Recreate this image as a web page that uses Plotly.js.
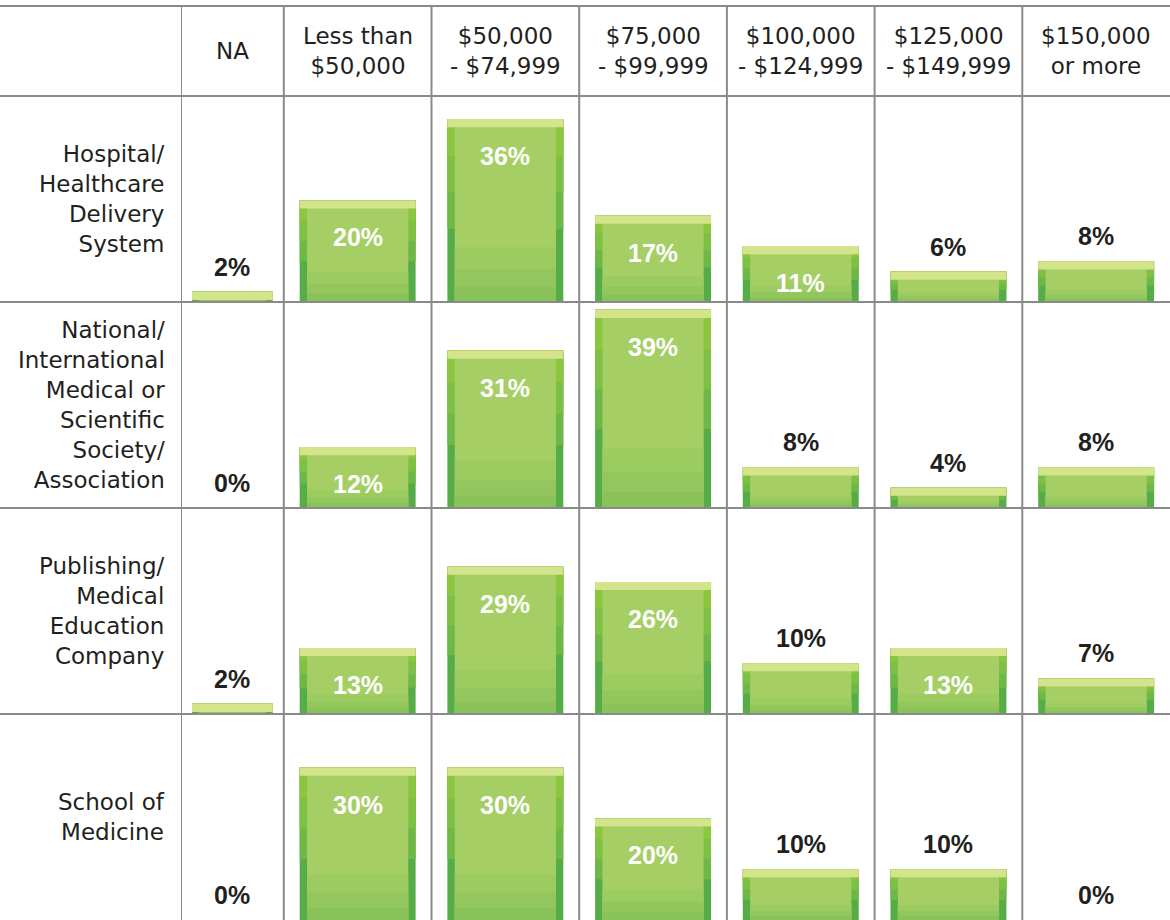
<!DOCTYPE html>
<html>
<head>
<meta charset="utf-8">
<script src="https://cdn.plot.ly/plotly-3.0.1.min.js"></script>
<style>
  html, body { margin: 0; padding: 0; background: #ffffff; }
  #chart { width: 1170px; height: 920px; }
</style>
</head>
<body>
<div id="chart"></div>
<script>
// ---- Data ----
const categories = ["NA", "Less than<br>$50,000", "$50,000<br>- $74,999", "$75,000<br>- $99,999",
                    "$100,000<br>- $124,999", "$125,000<br>- $149,999", "$150,000<br>or more"];
const rowLabels = ["Hospital/<br>Healthcare<br>Delivery<br>System",
                   "National/<br>International<br>Medical or<br>Scientific<br>Society/<br>Association",
                   "Publishing/<br>Medical<br>Education<br>Company",
                   "School of<br>Medicine"];
const hospital   = [2, 20, 36, 17, 11, 6, 8];
const national   = [0, 12, 31, 39, 8, 4, 8];
const publishing = [2, 13, 29, 26, 10, 13, 7];
const school     = [0, 30, 30, 20, 10, 10, 0];
const series = [hospital, national, publishing, school];

// ---- Layout constants ----
const colW = [0.696, 1, 1, 1, 1, 1, 1];
const centers = []; const bounds = []; let acc = 0;
colW.forEach(w => { bounds.push(acc); centers.push(acc + w / 2); acc += w; });
const xMax = acc;
const barFrac = 0.785;
const sideW = 0.05;
const yMax = 40.55;
const band = 1.6;
const W = 1170, H = 920, ML = 181, MT = 96;
const plotW = W - ML, plotH = H - MT;

const traces = [];
const annotations = [];
const yref = r => (r === 0 ? 'y' : 'y' + (r + 1));

function layer(r, vals, widthFn, baseFn, hFn, color) {
  traces.push({
    type: 'bar',
    x: centers,
    y: vals.map(v => (v > 0 ? hFn(v) : 0)),
    base: vals.map(v => (v > 0 ? baseFn(v) : 0)),
    width: colW.map(w => widthFn(w)),
    yaxis: yref(r),
    xaxis: 'x',
    marker: { color: color, line: { width: 0 } },
    hoverinfo: 'skip',
    showlegend: false
  });
}

series.forEach((vals, r) => {
  const full = w => w * barFrac;
  const inner = w => w * barFrac - 2 * sideW;
  // sides (dark lower, bright upper)
  layer(r, vals, full, v => 0, v => v, '#56ad48');
  layer(r, vals, full, v => v * 0.4, v => v * 0.6, '#6db846');
  layer(r, vals, full, v => v * 0.6, v => v * 0.4, '#7dc043');
  layer(r, vals, full, v => v * 0.8, v => v * 0.2, '#8cc63f');
  // body with stepped gradient
  layer(r, vals, inner, v => 0, v => v, '#a5cf65');
  layer(r, vals, inner, v => 0, v => v * 0.3, '#9ccb60');
  layer(r, vals, inner, v => 0, v => v * 0.18, '#93c65c');
  layer(r, vals, inner, v => 0, v => v * 0.08, '#89c258');
  // top bevel band
  layer(r, vals, full, v => Math.max(0, v - band), v => Math.min(band, v), '#d3e48a');

  vals.forEach((v, i) => {
    const inside = v > 10;
    annotations.push({
      xref: 'x', yref: yref(r), x: centers[i], y: v,
      text: '<b>' + v + '%</b>', showarrow: false,
      xanchor: 'center', yanchor: 'middle',
      yshift: inside ? -37 : 25,
      font: { family: 'Liberation Sans, Arial, sans-serif', size: 25, color: inside ? '#ffffff' : '#231f20' }
    });
  });

  annotations.push({
    xref: 'paper', yref: 'paper', x: -14 / plotW, y: (3 - r) / 4 + 0.125,
    xanchor: 'right', yanchor: 'middle', align: 'right', showarrow: false,
    text: rowLabels[r],
    font: { family: 'DejaVu Sans, sans-serif', size: 23, color: '#231f20' }
  });
});

categories.forEach((c, i) => {
  annotations.push({
    xref: 'x', yref: 'paper', x: centers[i], y: 1 + 45.5 / plotH,
    xanchor: 'center', yanchor: 'middle', align: 'center', showarrow: false,
    text: c,
    font: { family: 'DejaVu Sans, sans-serif', size: 23, color: '#231f20' }
  });
});

const lineStyle = { color: '#8a8a8a', width: 2 };
const shapes = [];
const topY = 1 + 90 / plotH;
bounds.forEach(b => {
  shapes.push({ type: 'line', xref: 'x', yref: 'paper', x0: b, x1: b, y0: 0, y1: topY, line: lineStyle });
});
[topY, 1, 0.75, 0.5, 0.25].forEach(y => {
  shapes.push({ type: 'line', xref: 'paper', yref: 'paper', x0: -ML / plotW, x1: 1, y0: y, y1: y, line: lineStyle });
});

const layout = {
  width: W, height: H,
  margin: { l: ML, r: 0, t: MT, b: 0, pad: 0 },
  paper_bgcolor: '#ffffff', plot_bgcolor: '#ffffff',
  barmode: 'overlay',
  showlegend: false,
  hovermode: false,
  xaxis: { range: [0, xMax], showgrid: false, zeroline: false, showticklabels: false, ticks: '', fixedrange: true },
  annotations: annotations,
  shapes: shapes
};
for (let r = 0; r < 4; r++) {
  const key = r === 0 ? 'yaxis' : 'yaxis' + (r + 1);
  layout[key] = {
    domain: [(3 - r) / 4, (4 - r) / 4], range: [0, yMax],
    showgrid: false, zeroline: false, showticklabels: false, ticks: '', fixedrange: true
  };
}

Plotly.newPlot('chart', traces, layout, { displayModeBar: false, staticPlot: true });
</script>
</body>
</html>
